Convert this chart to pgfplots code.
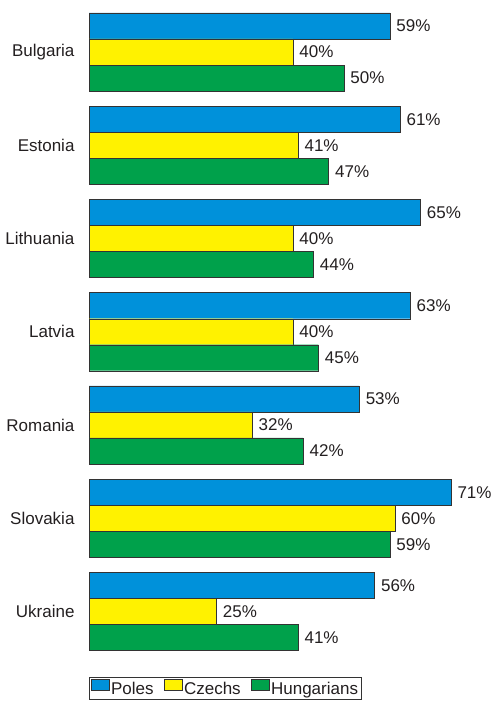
\documentclass[border=0pt]{standalone}
\usepackage{fontspec}
\setmainfont{Liberation Sans}
\usepackage{pgfplots}
\pgfplotsset{compat=1.18}
\definecolor{poles}{HTML}{0091DA}
\definecolor{czechs}{HTML}{FFF200}
\definecolor{hung}{HTML}{00A14B}
\definecolor{edge}{HTML}{333333}
\definecolor{txt}{HTML}{231F20}

\begin{document}
\begin{tikzpicture}[font=\fontsize{17}{20}\selectfont, text=txt]
\path[use as bounding box] (0,0) rectangle (493pt,-705pt);
\begin{axis}[
  at={(89pt,-0.7pt)}, anchor=north west,
  scale only axis, width=362pt, height=662pt,
  xbar, bar width=0.279,
  xmin=0, xmax=71, ymin=-0.55, ymax=6.55, y dir=reverse,
  axis line style={draw=none}, major tick length=0,
  xtick=\empty,
  ytick={0,...,6},
  yticklabels={Bulgaria,Estonia,Lithuania,Latvia,Romania,Slovakia,Ukraine},
  yticklabel style={xshift=-11pt, text=txt},
  /pgf/number format/assume math mode=true,
  clip=false,
  nodes near coords={\pgfmathprintnumber{\pgfplotspointmeta}\%},
  nodes near coords align=horizontal,
  every node near coord/.append style={xshift=3pt, text=txt},
  legend columns=-1,
  legend style={at={(0,0)}, anchor=north west, yshift=-14pt, draw=edge,
    inner xsep=2pt, inner ysep=2.5pt, nodes={inner sep=1.5pt},
    /tikz/every even column/.append style={column sep=9pt}},
  legend image code/.code={\draw[#1] (0pt,-2pt) rectangle (18pt,9pt);},
]
\addplot[fill=poles, draw=edge, bar shift=-0.279] coordinates {
  (59,0) (61,1) (65,2) (63,3) (53,4) (71,5) (56,6)};
\addlegendentry{Poles}
\addplot[fill=czechs, draw=edge, bar shift=0] coordinates {
  (40,0) (41,1) (40,2) (40,3) (32,4) (60,5) (25,6)};
\addlegendentry{Czechs}
\addplot[fill=hung, draw=edge, bar shift=0.279] coordinates {
  (50,0) (47,1) (44,2) (45,3) (42,4) (59,5) (41,6)};
\addlegendentry{Hungarians}
\end{axis}
\end{tikzpicture}
\end{document}
